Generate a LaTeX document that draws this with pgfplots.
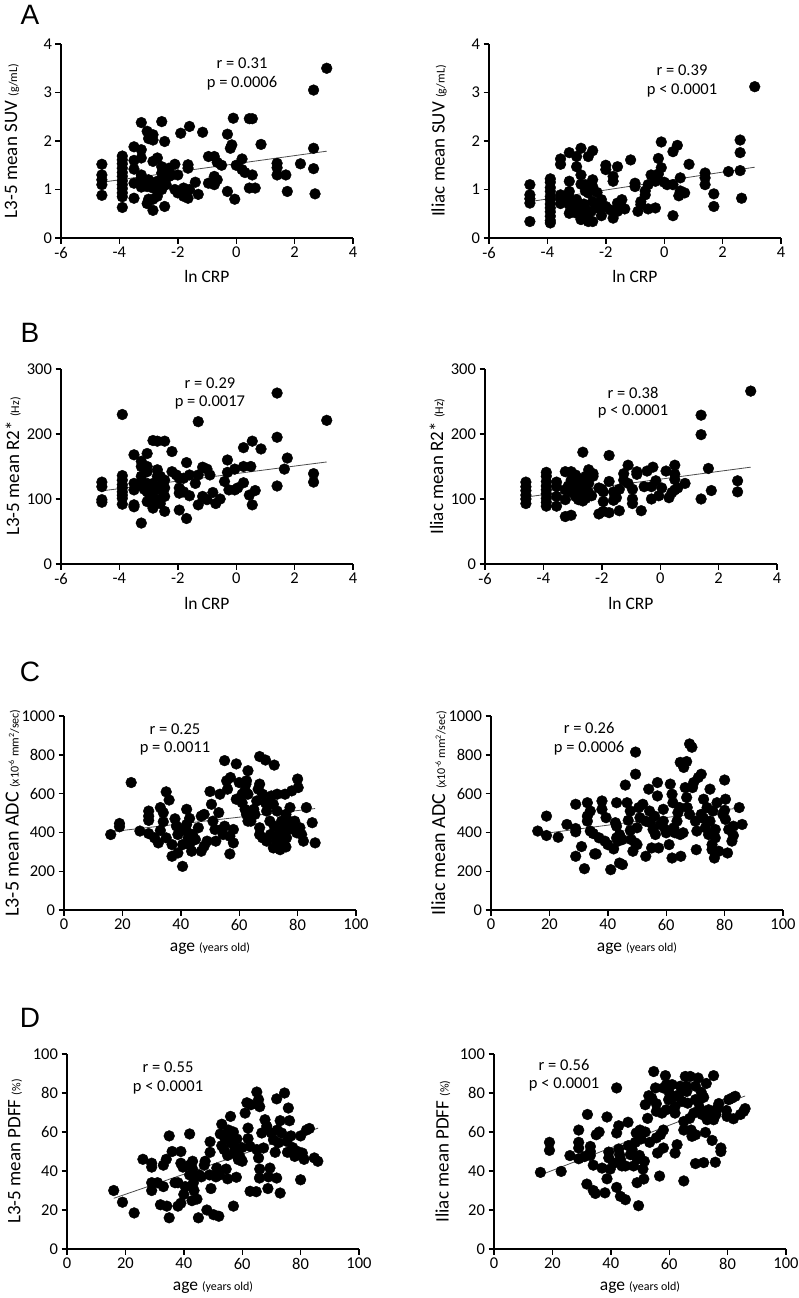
\documentclass[border=0pt]{standalone}
\usepackage{fontspec}
\setmainfont{Carlito}
\newfontfamily\letterfont{Liberation Sans}
\usepackage{pgfplots}
\pgfplotsset{compat=1.18}

\pgfplotsset{
  panel/.style={
    scale only axis, width=292pt, height=194pt,
    axis lines=left, axis line style={-, line width=1.6pt},
    tick align=outside, major tick length=5.5pt,
    every tick/.style={black, line width=1.4pt},
    tick label style={font=\fontsize{16.5}{17}\selectfont},
    /pgf/number format/assume math mode=true,
    /pgf/number format/1000 sep={},
    scaled ticks=false,
    xlabel style={font=\fontsize{17.5}{18}\selectfont, at={(axis description cs:0.5,-0.2)}, anchor=center},
    ylabel style={font=\fontsize{19}{20}\selectfont, anchor=center},
    clip=false,
  },
  dots/.style={only marks, mark=*, mark size=5.4pt, black, mark options={fill=black}},
  fit/.style={no marks, gray!60!black, line width=0.8pt},
  crp/.style={xmin=-6, xmax=4, xtick={-6,-4,...,4}, xlabel={ln CRP}},
  age/.style={xmin=0, xmax=100, xtick={0,20,...,100}, xlabel={age \unit{(years old)}}},
}
\newcommand{\unit}[1]{{\fontsize{12}{12}\selectfont #1}}
\newcommand{\stat}{\fontsize{16.5}{18}\selectfont}

\begin{document}
\begin{tikzpicture}
\useasboundingbox (0,0) rectangle (799pt,-1298pt);

% panel letters
\node[font=\letterfont\fontsize{28}{28}\selectfont] at (30pt,-15pt) {A};
\node[font=\letterfont\fontsize{28}{28}\selectfont] at (30pt,-333pt) {B};
\node[font=\letterfont\fontsize{28}{28}\selectfont] at (30pt,-672pt) {C};
\node[font=\letterfont\fontsize{28}{28}\selectfont] at (30pt,-1018pt) {D};

% ---------- A left
\begin{axis}[panel, crp, at={(61pt,-238pt)}, anchor=south west,
  ymin=0, ymax=4, ytick={0,1,...,4},
  ylabel={L3-5 mean SUV \unit{(g/mL)}},
  ylabel style={at={(axis description cs:-0.168,0.5)}}]
\addplot[dots] coordinates {
(-4.6,1.52)(-4.6,1.3)(-4.6,1.2)(-4.6,1.1)(-4.6,0.88)
(-3.9,1.69)(-3.9,1.61)(-3.9,1.53)(-3.9,1.44)(-3.9,1.35)(-3.9,1.27)(-3.9,1.18)(-3.9,1.1)(-3.9,1.02)(-3.9,0.93)(-3.9,0.85)(-3.9,0.63)
(-3.5,1.88)(-3.5,1.6)(-3.5,1.42)(-3.5,1.13)(-3.5,0.82)
(-3.25,2.38)(-3.25,1.82)(-3.25,1.65)(-3.25,1.3)(-3.25,1.23)(-3.25,1.05)
(-3.05,2.2)(-3.0,2.05)(-3.0,1.2)(-3.05,1.06)(-3.0,0.8)(-3.05,0.71)
(-2.85,2.13)(-2.85,2.02)(-2.85,1.58)(-2.85,1.03)(-2.85,0.8)(-2.85,0.57)
(-2.7,1.65)(-2.7,1.17)(-2.7,1.1)(-2.7,0.86)
(-2.55,2.4)(-2.55,1.47)(-2.55,1.34)(-2.55,1.13)(-2.55,1.0)
(-2.45,1.99)(-2.45,1.2)(-2.45,0.65)
(-2.3,1.44)(-2.3,1.27)(-2.1,1.52)(-2.1,1.0)(-2.0,1.3)(-2.0,0.93)
(-1.9,2.16)(-1.8,1.03)(-1.8,0.86)(-1.65,1.51)(-1.65,1.44)(-1.65,0.82)
(-1.6,2.3)(-1.6,1.0)(-1.4,1.15)(-1.3,0.9)(-1.15,2.18)
(-0.95,1.68)(-0.95,1.13)(-0.75,1.68)(-0.75,1.27)(-0.75,1.1)
(-0.65,1.56)(-0.65,1.2)(-0.5,1.5)(-0.3,0.96)(-0.3,2.14)
(-0.2,1.85)(-0.15,1.92)(-0.1,2.47)(-0.05,0.8)(0.0,1.5)
(0.2,1.41)(0.2,1.63)(0.3,1.35)(0.45,2.46)(0.45,1.03)(0.55,2.46)(0.55,1.3)(0.65,1.03)
(0.85,1.93)(1.4,1.54)(1.4,1.45)(1.4,1.3)(1.7,1.3)(1.75,0.96)(2.2,1.53)
(2.65,3.05)(2.65,1.85)(2.65,1.43)(2.7,0.91)(3.1,3.5)
(-3.15,1.1)(-2.95,1.08)(-2.6,1.15)(-2.65,1.05)(-2.4,1.1)(-2.2,1.3)
};
\addplot[fit] coordinates {(-4.6,1.15)(3.1,1.79)};
\node[font=\stat] at (axis cs:0.2,3.6) {r = 0.31};
\node[font=\stat] at (axis cs:0.2,3.2) {p = 0.0006};
\end{axis}

% ---------- A right
\begin{axis}[panel, crp, at={(489pt,-238pt)}, anchor=south west,
  ymin=0, ymax=4, ytick={0,1,...,4},
  ylabel={Iliac mean SUV \unit{(g/mL)}},
  ylabel style={at={(axis description cs:-0.171,0.5)}}]
\addplot[dots] coordinates {
(-4.6,1.1)(-4.6,0.89)(-4.6,0.81)(-4.6,0.72)(-4.6,0.34)
(-3.9,1.22)(-3.9,1.15)(-3.9,1.04)(-3.9,0.96)(-3.9,0.86)(-3.9,0.79)(-3.9,0.7)(-3.9,0.62)(-3.9,0.54)(-3.9,0.45)(-3.9,0.36)(-3.9,0.31)
(-3.55,1.63)(-3.55,1.52)(-3.55,0.89)(-3.55,0.81)(-3.55,0.71)
(-3.25,1.76)(-3.25,1.17)(-3.25,0.96)(-3.25,0.82)(-3.25,0.69)(-3.25,0.51)
(-3.0,1.68)(-3.0,1.47)(-3.0,0.79)(-3.0,0.62)(-3.0,0.51)
(-2.85,1.85)(-2.85,1.3)(-2.85,1.11)(-2.85,0.65)(-2.85,0.38)
(-2.7,1.1)(-2.7,0.97)(-2.7,0.6)(-2.7,0.45)
(-2.6,1.68)(-2.6,1.06)(-2.6,0.93)(-2.6,0.51)(-2.6,0.34)
(-2.45,1.8)(-2.45,1.2)(-2.45,1.06)(-2.45,0.75)(-2.45,0.34)
(-2.3,0.94)(-2.3,0.65)(-2.15,0.79)(-2.15,0.46)
(-2.0,1.5)(-2.0,1.41)(-2.0,0.65)(-1.85,0.58)
(-1.75,1.27)(-1.75,1.17)(-1.75,0.41)(-1.6,1.47)(-1.6,0.72)(-1.6,0.55)
(-1.45,0.79)(-1.35,0.6)(-1.15,1.61)(-1.0,1.13)(-1.0,1.06)(-0.9,0.55)
(-0.8,0.75)(-0.8,0.69)(-0.65,0.97)(-0.65,0.89)(-0.55,1.1)(-0.55,0.6)
(-0.45,1.3)(-0.3,1.17)(-0.3,0.62)(-0.2,1.64)(-0.2,1.32)
(-0.1,1.98)(-0.1,1.45)(0.0,1.15)(0.1,1.1)
(0.3,1.1)(0.3,1.78)(0.3,0.46)(0.45,1.91)(0.5,0.87)(0.55,1.24)(0.55,0.97)(0.7,0.93)
(0.85,1.52)(1.4,1.34)(1.4,1.24)(1.4,1.1)(1.7,0.91)(1.7,0.65)(2.2,1.37)
(2.6,2.02)(2.6,1.76)(2.6,1.39)(2.65,0.82)(3.1,3.12)
(-3.1,0.6)(-2.9,0.55)(-2.75,0.7)(-2.5,0.55)(-2.2,0.6)
};
\addplot[fit] coordinates {(-4.6,0.75)(3.1,1.46)};
\node[font=\stat] at (axis cs:0.61,3.46) {r = 0.39};
\node[font=\stat] at (axis cs:0.61,3.05) {p < 0.0001};
\end{axis}

% ---------- B left
\begin{axis}[panel, crp, at={(61pt,-564pt)}, anchor=south west, height=195pt,
  ymin=0, ymax=300, ytick={0,100,200,300},
  ylabel={L3-5 mean R2* \unit{(Hz)}},
  ylabel style={at={(axis description cs:-0.164,0.5)}}]
\addplot[dots] coordinates {
(-4.6,126)(-4.6,119)(-4.6,99)(-4.6,95)
(-3.9,230)(-3.9,136)(-3.9,129)(-3.9,122)(-3.9,117)(-3.9,111)(-3.9,106)(-3.9,101)(-3.9,92)
(-3.5,168)(-3.5,124)(-3.5,114)(-3.5,91)(-3.5,88)
(-3.25,158)(-3.25,150)(-3.25,135)(-3.25,127)(-3.25,122)(-3.25,63)
(-3.05,170)(-3.05,150)(-3.05,142)(-3.05,124)(-3.05,111)(-3.05,96)
(-2.85,190)(-2.85,124)(-2.85,111)(-2.85,102)(-2.85,86)
(-2.7,189)(-2.7,145)(-2.7,135)(-2.7,99)
(-2.6,135)(-2.6,114)(-2.6,93)
(-2.45,189)(-2.45,129)(-2.45,117)(-2.45,104)(-2.45,81)
(-2.2,173)(-2.2,142)(-2.05,137)
(-1.95,132)(-1.95,117)(-1.95,109)(-1.95,83)
(-1.8,132)(-1.8,111)(-1.7,156)(-1.7,70)(-1.6,137)(-1.6,105)
(-1.4,124)(-1.3,219)(-1.3,137)(-1.3,91)(-1.15,149)(-1.15,104)
(-1.0,146)(-1.0,99)(-0.9,137)(-0.8,110)(-0.7,93)(-0.55,100)
(-0.4,127)(-0.3,160)(-0.3,141)(-0.25,114)(-0.05,146)(-0.05,114)(0.05,117)
(0.25,179)(0.25,150)(0.25,125)(0.45,106)(0.5,150)(0.55,189)(0.55,91)(0.65,113)
(0.85,177)(1.4,263)(1.4,195)(1.4,120)(1.65,146)(1.75,163)
(2.65,139)(2.65,126)(3.1,221)
(-3.15,115)(-2.95,105)(-2.75,120)(-2.5,128)
};
\addplot[fit] coordinates {(-4.6,112.5)(3.1,157)};
\node[font=\stat] at (axis cs:-0.9,278) {r = 0.29};
\node[font=\stat] at (axis cs:-0.9,248) {p = 0.0017};
\end{axis}

% ---------- B right
\begin{axis}[panel, crp, at={(485pt,-564pt)}, anchor=south west, height=195pt,
  ymin=0, ymax=300, ytick={0,100,200,300},
  ylabel={Iliac mean R2* \unit{(Hz)}},
  ylabel style={at={(axis description cs:-0.164,0.5)}}]
\addplot[dots] coordinates {
(-4.6,126)(-4.6,119)(-4.6,113)(-4.6,106)(-4.6,100)(-4.6,93)
(-3.9,141)(-3.9,135)(-3.9,127)(-3.9,120)(-3.9,114)(-3.9,108)(-3.9,101)(-3.9,95)(-3.9,89)
(-3.55,126)(-3.55,119)(-3.55,104)(-3.55,89)
(-3.25,142)(-3.25,114)(-3.25,99)(-3.25,73)
(-3.05,142)(-3.05,129)(-3.05,111)(-3.05,75)
(-2.9,137)(-2.9,124)(-2.9,104)
(-2.8,132)(-2.8,111)(-2.8,99)
(-2.65,172)(-2.65,124)(-2.65,97)
(-2.55,135)(-2.55,114)(-2.55,101)
(-2.45,145)(-2.45,124)(-2.45,110)
(-2.3,139)(-2.3,135)(-2.1,117)(-2.1,77)
(-1.95,96)(-1.95,81)(-1.95,111)
(-1.75,167)(-1.75,127)(-1.75,79)(-1.6,111)(-1.6,98)(-1.5,102)
(-1.4,115)(-1.4,82)(-1.25,139)(-1.25,129)(-1.1,152)(-1.1,124)
(-0.95,115)(-0.95,100)(-0.95,93)(-0.8,138)(-0.8,142)(-0.65,82)
(-0.55,119)(-0.45,143)(-0.3,100)(-0.3,119)(-0.25,149)(-0.15,128)
(-0.05,105)(0.05,117)(0.2,143)(0.3,102)(0.4,110)
(0.5,152)(0.5,138)(0.5,130)(0.5,114)(0.6,117)(0.85,124)
(1.4,229)(1.4,199)(1.4,100)(1.65,147)(1.75,113)
(2.65,128)(2.65,111)(3.1,266)
(-3.15,120)(-2.7,118)(-2.35,105)(-2.0,115)
};
\addplot[fit] coordinates {(-4.6,103)(3.1,149)};
\node[font=\stat] at (axis cs:-0.93,263) {r = 0.38};
\node[font=\stat] at (axis cs:-0.93,234) {p < 0.0001};
\end{axis}

% ---------- C left
\begin{axis}[panel, age, at={(64pt,-910pt)}, anchor=south west,
  ymin=0, ymax=1000, ytick={0,200,...,1000},
  ylabel={L3-5 mean ADC \unit{(x10\textsuperscript{-6} mm\textsuperscript{2}/sec)}},
  ylabel style={font=\fontsize{20}{21}\selectfont, at={(axis description cs:-0.175,0.5)}}]
\addplot[dots] coordinates {
(16,389)(19,446)(19,429)(23,657)(26,407)(29,510)(29,484)(29,462)(29,394)(31,372)
(32.3,346)(33,528)(34,502)(34,455)(33,410)(35,609)(36,567)(35,372)(37,337)(37,277)
(38,470)(38.5,433)(39,389)(39.7,415)(39,294)(40.6,225)(40.6,337)(42,519)(43,472)(42,441)
(42,407)(42.5,372)(43,337)(43.7,303)(44,389)(45,363)(46,424)(47,303)(48,329)(49,355)
(47,484)(48,493)(50,611)(50.5,545)(51,458)(51.7,415)(52,355)(53,502)(53.4,597)(55,770)
(59,753)(63,718)(67,791)(69,773)(72,747)(55.7,666)(56,623)(57,683)(54,415)(54.5,389)
(55,432)(56.8,380)(58,346)(56.8,289)(58,415)(59,571)(60,657)(61,597)(61,553)(62,618)
(62.3,649)(62.5,666)(63,597)(62,519)(62.5,493)(63,458)(64,458)(65,519)(65.4,493)(66,562)
(66.5,623)(67,649)(67,389)(68,372)(67,424)(68,597)(69,553)(69.4,510)(70.5,458)(70.7,389)
(71,588)(71.7,545)(72,432)(72.6,355)(73,510)(73,597)(73.4,389)(74,337)(74.5,458)(75,415)
(75,372)(75.7,329)(75.7,597)(76,493)(76.5,415)(76.2,372)(77.4,528)(77.1,458)(78,614)(79,458)
(80,675)(80.2,631)(78.7,415)(79.7,398)(80.8,424)(81.4,389)(82,355)(83,528)(85,450)(86,346)
(76,325)(74,311)(71.7,320)(69.4,355)
};
\addplot[fit] coordinates {(17,405)(86,523)};
\node[font=\stat] at (axis cs:38,933) {r = 0.25};
\node[font=\stat] at (axis cs:38,835) {p = 0.0011};
\end{axis}

% ---------- C right
\begin{axis}[panel, age, at={(491pt,-910pt)}, anchor=south west,
  ymin=0, ymax=1000, ytick={0,200,...,1000},
  ylabel={Iliac mean ADC \unit{(x10\textsuperscript{-6} mm\textsuperscript{2}/sec)}},
  ylabel style={font=\fontsize{20}{21}\selectfont, at={(axis description cs:-0.178,0.5)}}]
\addplot[dots] coordinates {
(16,407)(19,484)(19,384)(23,375)(26,441)(29,545)(29,420)(29,403)(29,277)(31,327)
(32,213)(33,484)(33,553)(33,458)(34,510)(34,407)(35,394)(35.5,289)(36,289)(37,372)
(38,562)(38,519)(39,355)(39.4,476)(40,337)(41,208)(42,315)(42.6,450)(43,553)(43,372)
(43.5,355)(44,242)(45,234)(43,432)(44,389)(45,363)(46,644)(46.6,553)(47.7,510)(47,462)
(47.7,410)(48,363)(49.4,346)(48.6,303)(50,337)(50,424)(50.6,528)(51,476)(52,545)(53,458)
(53,277)(54,623)(54.3,510)(54.6,450)(55,320)(55.5,415)(56,484)(56.3,389)(57,657)(57,588)
(57.4,320)(58,441)(59,519)(59,458)(59.7,415)(60,398)(61,337)(61.4,649)(62,597)(62.3,553)
(62.6,424)(63,398)(62,268)(63.7,458)(64,502)(64.6,528)(64.8,389)(65,277)(65.8,398)(64.8,761)
(67,765)(66,735)(68,856)(68.8,839)(66.5,631)(67,580)(67.2,528)(68,493)(69,631)(69.4,657)
(70,458)(70.5,407)(70.3,311)(71,683)(72,700)(72,493)(72.8,571)(72.8,472)(73.4,424)(74,528)
(74.5,389)(75,458)(75,623)(75.7,337)(75.7,311)(76,510)(76.8,415)(76.8,372)(77.4,553)(78,303)
(79.4,493)(80,514)(80.3,467)(80,670)(80.3,571)(81.4,415)(83,432)(83,384)(82.5,355)(81,294)
(85,528)(86,441)(76.5,268)(49.5,814)(49.5,700)
};
\addplot[fit] coordinates {(18,394)(84,524)};
\node[font=\stat] at (axis cs:33.6,938) {r = 0.26};
\node[font=\stat] at (axis cs:33.6,835) {p = 0.0006};
\end{axis}

% ---------- D left
\begin{axis}[panel, age, at={(67pt,-1249pt)}, anchor=south west, height=195pt,
  ymin=0, ymax=100, ytick={0,20,...,100},
  ylabel={L3-5 mean PDFF \unit{(\%)}},
  ylabel style={at={(axis description cs:-0.178,0.5)}}]
\addplot[dots] coordinates {
(16,30)(19,24)(23,18.5)(26,46)(29,44)(29,42)(29,34)(29,30)(31,34)(32,22.7)
(33,43)(33,32)(34,46)(34.2,22)(35,16)(35,58)(36,50)(37,34)(38,34)(38,22)
(39,23.5)(39,50)(39,44)(39.7,42)(40,28)(40.5,32)(42,59)(42,43)(42,38)(42.8,24.8)
(43,45)(43,41)(43.3,37)(43.3,34)(43.5,30)(44.5,25.6)(45,16)(45.3,38)(46,37)(47,43)
(47.3,45)(47.9,20)(48.8,38)(49,49.6)(49,55)(49.3,31)(50.2,17.6)(51,37)(51.3,41.5)(52,16.8)
(52.2,38)(52.5,59)(53,53)(53,64)(53.8,51)(54.5,41)(55,36)(55.3,61)(56,68)(56.2,54.5)
(57,49)(57,22)(58,36.8)(58.2,56.4)(58.4,50)(58.7,45.8)(59.3,47)(59.9,52)(61,69.7)(61.6,75)
(62,62)(62,56.6)(62.7,52.6)(63,74)(62.7,29.6)(64.8,29.4)(65,80.5)(65.6,76.6)(66,73)(65,51)
(65.6,46.7)(65.9,36.4)(66,41)(66.7,59.5)(67.3,51.8)(67.8,66.3)(68.4,63)(68.8,31)(69,37)(69.5,41.5)
(70,59.5)(70.7,56)(71.3,49.6)(71.8,36.4)(71.8,77)(72,61)(72.4,54.5)(73,28.7)(73,65.8)(73.5,59.5)
(74.5,80)(75.3,55.2)(75.5,49.6)(75.8,72.3)(76.2,65.8)(76.7,58)(77.3,52)(78,47.5)(79,50)(80,58)
(80,35.5)(80.6,49.2)(81.2,46)(82,61)(83,61.8)(84.7,46.7)(85.9,45)
(56,58)(57.5,52)(55,48)(60,45)(57,60)(54,57)
};
\addplot[fit] coordinates {(16,26)(86,62)};
\node[font=\stat] at (axis cs:34.6,93) {r = 0.55};
\node[font=\stat] at (axis cs:34.6,82.6) {p < 0.0001};
\end{axis}

% ---------- D right
\begin{axis}[panel, age, at={(494pt,-1249pt)}, anchor=south west, height=195pt,
  ymin=0, ymax=100, ytick={0,20,...,100},
  ylabel={Iliac mean PDFF \unit{(\%)}},
  ylabel style={at={(axis description cs:-0.175,0.5)}}]
\addplot[dots] coordinates {
(15.9,39.3)(19,54.7)(19,50.6)(23,39.8)(26,47.9)(29,61)(29,54.7)(29,51.8)(29,46.3)(31,47.4)
(31.8,33.3)(32,69)(33,52.6)(33,50)(33,48)(34,43)(34,30)(34.7,28.5)(35,58.6)(36,60)
(37,41.5)(38,28.8)(38.7,67.7)(38.7,36)(39.3,49.7)(39.3,46.7)(39.8,41)(41,44)(42,59.5)(42,31.6)
(42,82.6)(42.7,63.2)(42.7,51.3)(43,48.4)(43.3,46)(43.3,27)(43.8,42.6)(45,25.3)(45,42.6)(45.9,65)
(46,53)(46.7,48.4)(47.3,51)(47.8,42.6)(48.4,54.7)(48.7,59.5)(49,46)(49,34)(49.5,22.2)(49.8,48)
(50,61)(50.3,56.4)(51,41)(51.3,35.9)(51.5,45)(51.8,60)(51.8,74)(52.6,67)(53,78.6)(53.3,54.7)
(53.8,76.9)(54,77.4)(54.7,91)(55.3,82.6)(55.6,74.5)(55.6,70.6)(55.6,57)(56,49.2)(56.7,37.4)(57,58.6)
(57.5,69.7)(58,82.6)(58,61)(58,51.8)(58.7,88.9)(59,84.3)(59,71.4)(59.8,76.6)(60,80.3)(61,84.3)
(61.5,78)(62,73)(62,69.7)(62,49.2)(62.7,53.5)(63.2,79)(63.8,83.5)(64.4,75.7)(65,61)(65,34.9)
(65,65.4)(65.5,88.5)(65.9,83.5)(66,80.8)(66.3,74.8)(67,67)(67.2,88.5)(67.5,61)(67.8,57.8)(68.4,69.7)
(69,83.5)(69,76.6)(69,43.8)(69,58.6)(69.9,87.7)(70,75.4)(70.4,72.3)(71,80.3)(71.2,69)(71.8,77.8)
(71.8,44.3)(72.4,69.7)(72.4,59.8)(72.7,84.9)(73,66.3)(73.5,71.4)(74,70.5)(74.7,55.7)(75.2,88.9)(75.8,44.5)
(75.2,66.3)(76,69)(76.4,72)(77,74.6)(77.7,51.8)(77.7,50)(79.6,71)(79.8,68)(80.4,76.6)(81.5,77.4)
(82,66.8)(82.6,78.3)(84.4,69)(85.5,70.6)(86,72)
};
\addplot[fit] coordinates {(16,38)(86,78.5)};
\node[font=\stat] at (axis cs:24,94.4) {r = 0.56};
\node[font=\stat] at (axis cs:24,84.6) {p < 0.0001};
\end{axis}
\end{tikzpicture}
\end{document}
